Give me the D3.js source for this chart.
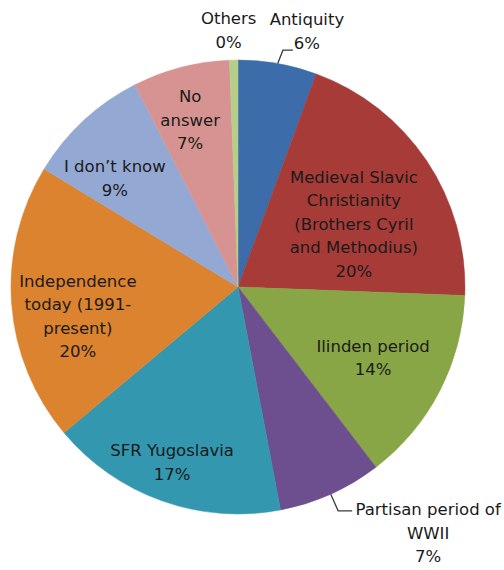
<!DOCTYPE html>
<html>
<head>
<meta charset="utf-8">
<script src="https://cdn.jsdelivr.net/npm/d3@7"></script>
<style>
  body { margin: 0; background: #fff; }
  #chart text { font-family: "DejaVu Sans", sans-serif; font-size: 16.5px; fill: #1a1a1a; }
</style>
</head>
<body>
<div id="chart"></div>
<script>
// Chart data (shares, labels as printed)
const categories = ["Antiquity", "Medieval Slavic Christianity (Brothers Cyril and Methodius)",
  "Ilinden period", "Partisan period of WWII", "SFR Yugoslavia",
  "Independence today (1991-present)", "I don’t know", "No answer", "Others"];
const labelLines = [
  ["Antiquity"],
  ["Medieval Slavic", "Christianity", "(Brothers Cyril", "and Methodius)"],
  ["Ilinden period"],
  ["Partisan period of", "WWII"],
  ["SFR Yugoslavia"],
  ["Independence", "today (1991-", "present)"],
  ["I don’t know"],
  ["No", "answer"],
  ["Others"]
];
const shares    = [5.6, 20.0, 14.0, 7.4, 16.9, 19.8, 8.8, 6.9, 0.6];
const pctLabels = ["6%", "20%", "14%", "7%", "17%", "20%", "9%", "7%", "0%"];
const colors    = ["#3c6daa", "#a63b38", "#88a646", "#6d4e8e", "#3397af",
                   "#dc832f", "#93a8d3", "#d69391", "#b5cf8a"];

// Label placement: f = distance as fraction of radius, rot = angle nudge (deg)
// leader = [end dx, end dy, elbow dx] relative to label centre
const labelLayout = [
  { f: 1.167, rot: 5,     leader: [-14, 19, -10] },
  { f: 0.581, rot: 5.3 },
  { f: 0.672, rot: 0.3 },
  { f: 1.369, rot: -13.6, leader: [-76, -22, -14] },
  { f: 0.824, rot: 1 },
  { f: 0.717, rot: -6 },
  { f: 0.724, rot: -5.7 },
  { f: 0.766, rot: -1.4 },
  { f: 1.133, rot: -1 }
];

const width = 504, height = 570;
const radius = 227;
const lineH = 23.5;

const svg = d3.select('#chart')
  .append('svg')
    .attr('width', width)
    .attr('height', height);

const g = svg.append('g')
  .attr('transform', `translate(238,287)`);

const pie = d3.pie()
  .sort(null)
  .value(d => d);

const arcs = pie(shares);

const arc = d3.arc()
  .innerRadius(0)
  .outerRadius(radius);

// Slices
g.append('g')
  .selectAll('path')
  .data(arcs)
  .join('path')
    .attr('d', arc)
    .attr('fill', (d, i) => colors[i])
    .attr('stroke', (d, i) => colors[i])
    .attr('stroke-width', 0.5);

const polar = (ang, r) => [Math.sin(ang) * r, -Math.cos(ang) * r];

// Labels and leader lines
arcs.forEach((a, i) => {
  const L = labelLayout[i];
  const mid = (a.startAngle + a.endAngle) / 2;
  const [cx, cy] = polar(mid + L.rot * Math.PI / 180, radius * L.f);

  if (L.leader) {
    const start = polar(mid, radius);
    const end = [cx + L.leader[0], cy + L.leader[1]];
    const elbow = [end[0] + L.leader[2], end[1]];
    g.append('path')
      .attr('d', d3.line()([start, elbow, end]))
      .attr('fill', 'none')
      .attr('stroke', '#3a3a3a')
      .attr('stroke-width', 1.3);
  }

  const lines = labelLines[i].concat(pctLabels[i]);
  const text = g.append('text').attr('text-anchor', 'middle');
  lines.forEach((ln, j) => {
    text.append('tspan')
      .attr('x', cx)
      .attr('y', cy + (j - (lines.length - 1) / 2) * lineH)
      .attr('dy', '0.35em')
      .text(ln);
  });
});
</script>
</body>
</html>
